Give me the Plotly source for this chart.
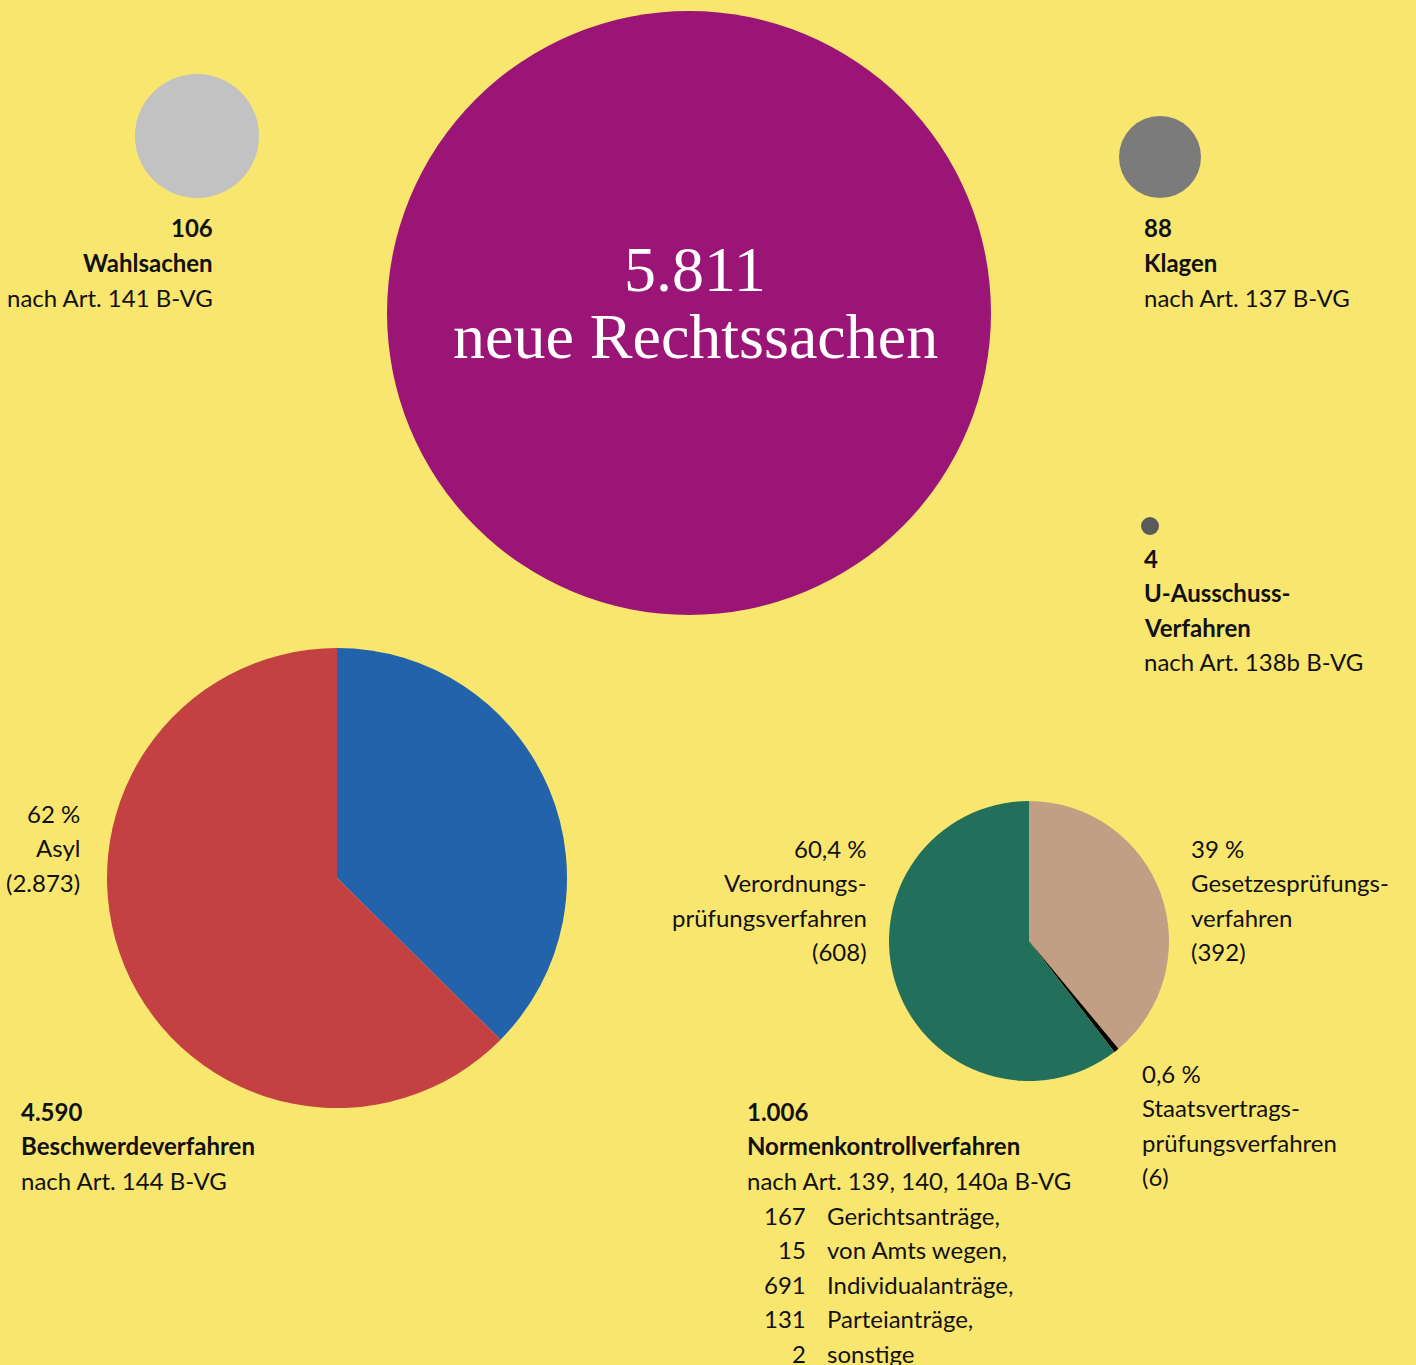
import plotly.graph_objects as go

W, H = 1416, 1365

# ---- data ----
total_value = 5811
total_label = ["5.811", "neue Rechtssachen"]

single_values = [106, 88, 4]            # Wahlsachen, Klagen, U-Ausschuss
single_colors = ["#C2C2C2", "#7B7B7B", "#5A5A5A"]

besch_labels = ["Sonstige", "Asyl"]
besch_values = [1717, 2873]
besch_pct = ["38 %", "62 %"]
besch_colors = ["#2363AB", "#C44143"]

normen_labels = ["Gesetzesprüfungsverfahren", "Staatsvertragsprüfungsverfahren", "Verordnungsprüfungsverfahren"]
normen_values = [392, 6, 608]
normen_pct = ["39 %", "0,6 %", "60,4 %"]
normen_colors = ["#C29E85", "#000000", "#22705C"]

normen_sub_numbers = ["167", "15", "691", "131", "2"]
normen_sub_labels = ["Gerichtsanträge,", "von Amts wegen,", "Individualanträge,", "Parteianträge,", "sonstige"]

BG = "#F9E66F"
PURPLE = "#9B1577"
FONT = "Lato"
FS = 24
LH = 34.6

# ---- layout helpers (pixel -> paper) ----
def dom(cx, cy, r):
    return dict(x=[(cx - r) / W, (cx + r) / W], y=[1 - (cy + r) / H, 1 - (cy - r) / H])

fig = go.Figure()

def pie(values, colors, cx, cy, r, labels=None):
    fig.add_trace(go.Pie(
        values=values, labels=labels or [str(v) for v in values],
        marker=dict(colors=colors, line=dict(width=0)),
        sort=False, direction="clockwise", rotation=0,
        textinfo="none", hoverinfo="label+value", showlegend=False,
        domain=dom(cx, cy, r)))

pie([total_value], [PURPLE], 689, 313, 302, ["neue Rechtssachen"])
pie([single_values[0]], [single_colors[0]], 197, 136, 62, ["Wahlsachen"])
pie([single_values[1]], [single_colors[1]], 1160, 157, 41, ["Klagen"])
pie([single_values[2]], [single_colors[2]], 1150, 526, 9, ["U-Ausschuss-Verfahren"])
pie(besch_values, besch_colors, 337, 878, 230, besch_labels)
pie(normen_values, normen_colors, 1029, 941, 140, normen_labels)

annotations = []

def txt(lines, x, y0, align="left", bold_n=0, size=FS, color="#111111", family=FONT, lh=LH):
    for i, line in enumerate(lines):
        t = f"<b>{line}</b>" if i < bold_n else line
        annotations.append(dict(
            text=t, x=x / W, y=1 - (y0 + i * lh) / H, xref="paper", yref="paper",
            xanchor={"left": "left", "right": "right", "center": "center"}[align],
            yanchor="middle", showarrow=False,
            font=dict(family=family, size=size, color=color)))

def fmt(n):
    return f"{n:,}".replace(",", ".")

txt([fmt(single_values[0]), "Wahlsachen", "nach Art. 141 B-VG"], 215, 228, "right", 2)
txt([fmt(single_values[1]), "Klagen", "nach Art. 137 B-VG"], 1142, 228, "left", 2)
txt([fmt(single_values[2]), "U-Ausschuss-", "Verfahren", "nach Art. 138b B-VG"], 1142, 558, "left", 3)

besch_total = sum(besch_values)
txt([besch_pct[1], "Asyl", f"({fmt(besch_values[1])})"], 82, 813, "right")
txt([fmt(besch_total), "Beschwerdeverfahren", "nach Art. 144 B-VG"], 19, 1111, "left", 2)

txt([normen_pct[2], "Verordnungs-", "prüfungsverfahren", f"({normen_values[2]})"], 869, 848, "right")
txt([normen_pct[0], "Gesetzesprüfungs-", "verfahren", f"({normen_values[0]})"], 1189, 848, "left")
txt([normen_pct[1], "Staatsvertrags-", "prüfungsverfahren", f"({normen_values[1]})"], 1140, 1073, "left")
txt([fmt(sum(normen_values)), "Normenkontrollverfahren", "nach Art. 139, 140, 140a B-VG"], 745, 1111, "left", 2)
txt(normen_sub_numbers, 808, 1215, "right")
txt(normen_sub_labels, 825, 1215, "left")

txt(total_label, 695, 270, "center", size=64, color="#FFFFFF", family="Liberation Serif", lh=66)

fig.update_layout(
    width=W, height=H, margin=dict(l=0, r=0, t=0, b=0),
    paper_bgcolor=BG, plot_bgcolor=BG,
    annotations=annotations, showlegend=False)

fig.write_html("out.html", config={"displayModeBar": False},
               post_script="document.body.style.margin='0';document.body.style.overflow='hidden';")
